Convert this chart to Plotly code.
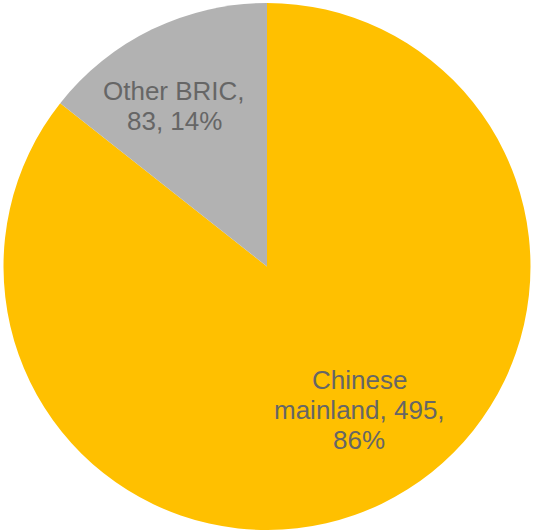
import plotly.graph_objects as go

labels = ["Chinese mainland", "Other BRIC"]
values = [495, 83]
percents = ["86%", "14%"]
label_lines = [
    ["Chinese", "mainland, 495,", "86%"],
    ["Other BRIC,", "83, 14%"],
]
colors = ["#FFC000", "#B2B2B2"]

W, H = 533, 530
# label anchor (pixel) for each slice: centre x, first line middle y
label_pos = [(359, 380), (174, 91)]
line_step = 30

fig = go.Figure(go.Pie(
    labels=labels,
    values=values,
    textinfo="none",
    sort=False,
    direction="clockwise",
    rotation=0,
    marker=dict(colors=colors, line=dict(width=0)),
    hoverinfo="label+value+percent",
    domain=dict(x=[3 / W, 531 / W], y=[0, 527 / H]),
))

for lines, (px, py) in zip(label_lines, label_pos):
    for i, ln in enumerate(lines):
        fig.add_annotation(
            x=px / W, y=1 - (py + i * line_step) / H,
            xref="paper", yref="paper",
            text=ln, showarrow=False,
            xanchor="center", yanchor="middle",
            font=dict(family="Liberation Sans, Arial, sans-serif", size=26, color="#666666"),
        )

fig.update_layout(
    width=W, height=H,
    margin=dict(l=0, r=0, t=0, b=0),
    showlegend=False,
    paper_bgcolor="white",
)
fig.write_html("out.html", config={"displayModeBar": False},
               post_script="document.body.style.margin='0';")
